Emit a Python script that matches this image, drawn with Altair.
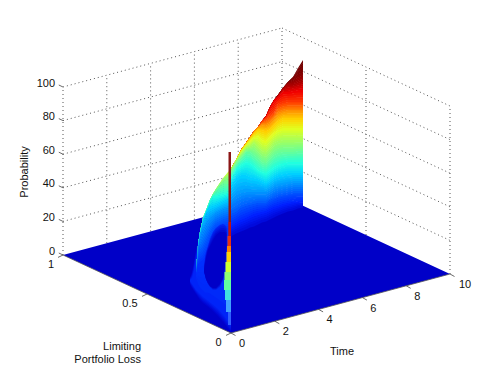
import altair as alt
import pandas as pd

# ---- axis content ----
z_ticks = [0, 20, 40, 60, 80, 100]
time_ticks = [0, 2, 4, 6, 8, 10]
loss_ticks = [0, 0.5, 1]
loss_labels = ["0", "0.5", "1"]
loss_label_dx = [-12.5, -17, -12]
time_label_dx = [11, 11, 11, 11, 11, 15]

# ---- jet colour levels of the right flank, top to bottom ----
right_colors = ["#700000", "#800000", "#a80000", "#f00000", "#ff4000", "#ff9000", "#ffd000", "#e0ff20",
                "#a0ff60", "#60ffa0", "#20ffe0", "#00d0ff", "#0090ff", "#0050ff", "#0020ff", "#0004d4"]
right_x = [231, 236, 241, 246, 250, 254, 258, 262, 266, 270, 274, 278, 283, 288, 293, 298, 303]
right_levels = [
    [169, 160, 150, 143, 137, 131, 127, 121, 116, 107, 100, 95, 88, 82, 77, 68, 60],
    [169, 160, 150, 143, 137, 131, 127, 121, 116, 107, 100, 95, 88, 82, 78, 74, 72],
    [169, 160, 150, 143, 137, 131, 127, 121, 116, 107, 100, 95, 88, 84, 84, 82, 80],
    [169, 160, 150, 143, 137, 131, 127, 121, 116, 107, 100, 97, 92, 92, 91, 90, 90],
    [169, 160, 150, 143, 137, 131, 127, 121, 118, 115, 112, 105, 103, 102, 102, 102, 102],
    [169, 160, 150, 143, 137, 131, 127, 124, 124, 122, 118, 113, 111, 110, 110, 110, 110],
    [169, 160, 150, 143, 138, 133, 129, 130, 131, 129, 125, 121, 118, 118, 118, 118, 118],
    [169, 160, 151, 145, 141, 137, 136, 140, 141, 137, 133, 130, 128, 128, 128, 128, 128],
    [169, 160, 154, 148, 146, 143, 147, 151, 152, 148, 143, 141, 140, 140, 140, 140, 140],
    [172, 164, 158, 152, 152, 155, 158, 162, 163, 159, 155, 153, 152, 152, 152, 151, 151],
    [178, 169, 165, 162, 163, 166, 170, 172, 173, 170, 167, 165, 163, 162, 162, 162, 162],
    [185, 178, 175, 175, 177, 178, 179, 181, 183, 180, 177, 175, 174, 173, 173, 173, 173],
    [200, 195, 193, 192, 192, 192, 192, 192, 192, 190, 187, 186, 185, 184, 183, 183, 183],
    [214, 212, 208, 206, 205, 204, 203, 203, 203, 200, 198, 196, 195, 194, 193, 193, 193],
    [226, 223, 220, 218, 216, 214, 213, 212, 211, 209, 207, 206, 204, 203, 202, 201, 201],
    [236, 233, 231, 229, 227, 226, 224, 222, 221, 219, 217, 215, 213, 211, 210, 208, 207],
]

# ---- left limb of the ridge ----
limb_colors = ["#c8ff38", "#90ff70", "#60ffa0", "#20ffe0", "#00d0ff", "#0090ff", "#0058ff", "#0030ff", "#0028f8"]
limb_x = [196, 198, 200, 203, 205, 207, 210, 213, 216, 220, 224, 228, 231]
limb_levels = [
    [272, 245, 232, 218, 213, 208, 200, 194, 189, 183, 177, 172, 169],
    [272, 245, 232, 218, 213, 208, 200, 194, 189, 183, 178, 176, 176],
    [272, 245, 232, 218, 213, 208, 200, 194, 190, 186, 184, 184, 185],
    [272, 245, 232, 218, 213, 208, 200, 196, 196, 195, 194, 193, 193],
    [272, 245, 232, 220, 215, 210, 207, 206, 205, 203, 201, 199, 199],
    [272, 248, 238, 230, 226, 222, 218, 216, 213, 211, 209, 208, 207],
    [272, 258, 250, 246, 242, 238, 232, 227, 223, 221, 219, 218, 218],
    [273, 265, 262, 260, 257, 252, 245, 238, 233, 229, 228, 228, 228],
    [278, 283, 287, 290, 292, 292, 293, 295, 297, 300, 303, 306, 308],
]

halo_colors = ["#0004d4", "#0024f8"]
halo_x = [190, 192, 194, 196, 198, 200, 203, 207, 212, 218, 224, 231]
halo_outer_top = [278, 272, 262, 250, 240, 232, 220, 210, 197, 188, 180, 175]
halo_outer_bottom = [284, 288, 291, 294, 297, 300, 303, 306, 310, 316, 323, 333]
halo_inner_top = [280, 278, 270, 258, 248, 236, 224, 214, 200, 190, 182, 177]
halo_inner_bottom = [281, 284, 287, 290, 292, 294, 297, 300, 304, 309, 316, 326]

pocket_colors = ["#0024f0", "#0000c8"]
pocket_x = [204, 206, 208, 210, 213, 216, 220, 223, 225, 226.5]
pocket_outer_top = [265, 252, 246, 239, 232, 228, 225, 224, 225, 227]
pocket_outer_bottom = [268, 279, 284, 287, 290, 290, 287, 280, 270, 250]
pocket_inner_top = [270, 258, 250, 246, 240, 235, 232, 232, 232, 234]
pocket_inner_bottom = [272, 279, 283, 286, 288, 288, 284, 278, 265, 245]

# ---- the spike near the origin ----
spike_top = [152, 222, 236, 246, 252, 262, 272, 280, 290, 300, 312]
spike_bottom = [222, 236, 246, 252, 262, 272, 280, 290, 300, 312, 325]
spike_left = [228.5, 228.3, 227.5, 227, 226.5, 225.5, 224.5, 224, 225, 226, 228]
spike_right = [231, 231, 231, 231, 231, 231, 231, 231, 231, 231, 231]
spike_colors = ["#8c1616", "#c01010", "#e83010", "#ff8000", "#ffd000", "#d0ff30", "#90ff70",
                "#60ffa0", "#40e0e0", "#40a0ff", "#3060ff"]

FLOOR = "#0000c8"
SHADES = 5  # colour steps painted between two neighbouring read levels


def project(loss, time, z):
    """Orthographic view used by the figure."""
    return (231 - 168 * loss + 21.9 * time, 333 - 78 * loss - 5.9 * time - 1.68 * z)


X = alt.X("x:Q", scale=alt.Scale(domain=[8, 489]), axis=None)
Y = alt.Y("y:Q", scale=alt.Scale(domain=[367, 8]), axis=None)


def area(xs, top, bottom, color):
    df = pd.DataFrame({"x": xs, "y": top, "y2": bottom})
    return alt.Chart(df).mark_area(color=color, interpolate="linear", strokeWidth=0).encode(
        x=X, y=Y, y2="y2:Q")


def blend(c1, c2, f):
    a = [int(c1[i:i + 2], 16) for i in (1, 3, 5)]
    b = [int(c2[i:i + 2], 16) for i in (1, 3, 5)]
    return "#%02x%02x%02x" % tuple(round(p + (q - p) * f) for p, q in zip(a, b))


def mix(u, v, f):
    return [p + (q - p) * f for p, q in zip(u, v)]


def shaded(xs, levels, colors):
    """Smooth colour ramp between successive level curves."""
    out = []
    for k in range(len(levels) - 1):
        for s in range(SHADES):
            f0, f1 = s / SHADES, (s + 1) / SHADES
            top = mix(levels[k], levels[k + 1], f0)
            bot = mix(levels[k], levels[k + 1], f1)
            out.append(area(xs, top, [v + 0.6 for v in bot], blend(colors[k], colors[k + 1], f0)))
    return out


def nested(xs, top0, bot0, top1, bot1, c0, c1, steps=5):
    out = []
    for s in range(steps):
        f = s / (steps - 1)
        out.append(area(xs, mix(top0, top1, f), mix(bot0, bot1, f), blend(c0, c1, f)))
    return out


def segments(pairs, color, width=1.0, dash=None, opacity=1.0):
    rows = []
    for i, (a, b) in enumerate(pairs):
        rows.append({"g": i, "o": 0, "x": a[0], "y": a[1]})
        rows.append({"g": i, "o": 1, "x": b[0], "y": b[1]})
    kw = dict(color=color, strokeWidth=width, opacity=opacity)
    if dash:
        kw["strokeDash"] = dash
    return alt.Chart(pd.DataFrame(rows)).mark_line(**kw).encode(x=X, y=Y, detail="g:N", order="o:Q")


def text(rows, **kw):
    df = pd.DataFrame(rows, columns=["x", "y", "t"])
    return alt.Chart(df).mark_text(font="Liberation Sans", fontSize=11, color="#111111", **kw).encode(
        x=X, y=Y, text="t:N")


layers = []

# walls
grid = []
for z in z_ticks[1:]:
    grid.append((project(1, 0, z), project(1, 10, z)))
    grid.append((project(1, 10, z), project(0, 10, z)))
for t in time_ticks:
    grid.append((project(1, t, 0), project(1, t, 100)))
grid.append((project(0.5, 10, 0), project(0.5, 10, 100)))
grid.append((project(0, 10, 0), project(0, 10, 100)))
layers.append(segments(grid, "#555555", 1.0, [1, 3]))

# floor
A, F, C, D = project(1, 0, 0), project(0, 0, 0), project(0, 10, 0), project(1, 10, 0)
fx = [A[0], F[0], D[0], C[0]]
ftop = [A[1], A[1] + (D[1] - A[1]) * (F[0] - A[0]) / (D[0] - A[0]), D[1], C[1]]
fbot = [A[1], F[1], F[1] + (C[1] - F[1]) * (D[0] - F[0]) / (C[0] - F[0]), C[1]]
layers.append(area(fx, ftop, fbot, FLOOR))

# halo, limb, pocket
layers += nested(halo_x, halo_outer_top, halo_outer_bottom, halo_inner_top, halo_inner_bottom,
                 halo_colors[0], halo_colors[1])
layers += shaded(limb_x, limb_levels, limb_colors)
layers += nested(pocket_x, pocket_outer_top, pocket_outer_bottom, pocket_inner_top, pocket_inner_bottom,
                 pocket_colors[0], pocket_colors[1])

# right flank
layers += shaded(right_x, right_levels, right_colors)

# spike
spike_df = pd.DataFrame({"x": spike_left, "x2": spike_right, "y": spike_top, "y2": spike_bottom, "c": spike_colors})
layers.append(alt.Chart(spike_df).mark_rect().encode(
    x=X, x2="x2:Q", y=Y, y2="y2:Q", color=alt.Color("c:N", scale=None)))

# front edges and ticks
layers.append(segments([(A, F), (F, C)], "#555555", 0.8))
ticks = []
for z in z_ticks:
    p = project(1, 0, z)
    ticks.append((p, (p[0] - 4.2, p[1] - 2)))
for t in time_ticks:
    p = project(0, t, 0)
    ticks.append((p, (p[0] + 4.5, p[1] + 2.5)))
for l in loss_ticks:
    p = project(l, 0, 0)
    ticks.append((p, (p[0] - 5, p[1] + 2.4)))
layers.append(segments(ticks, "#444444", 0.8))

# tick labels
layers.append(text([(project(1, 0, z)[0] - 8, project(1, 0, z)[1] - 3.5, str(z)) for z in z_ticks],
                   align="right", baseline="middle"))
layers.append(text([(project(l, 0, 0)[0] + dx, project(l, 0, 0)[1] + 10, s)
                    for l, s, dx in zip(loss_ticks, loss_labels, loss_label_dx)],
                   align="center", baseline="middle"))
layers.append(text([(project(0, t, 0)[0] + dx, project(0, t, 0)[1] + 11, str(t))
                    for t, dx in zip(time_ticks, time_label_dx)],
                   align="center", baseline="middle"))

# titles
layers.append(text([(25, 172, "Probability")], align="center", baseline="middle", angle=270))
layers.append(text([(342, 352, "Time")], align="center", baseline="middle"))
layers.append(text([(141, 347, "Limiting"), (141, 360, "Portfolio Loss")], align="right", baseline="middle"))

chart = alt.layer(*layers).properties(
    width=481, height=359, padding=0,
    autosize=alt.AutoSizeParams(type="none"),
).configure_view(stroke=None)

chart.save("out.html", embed_options={"renderer": "svg", "actions": False})
